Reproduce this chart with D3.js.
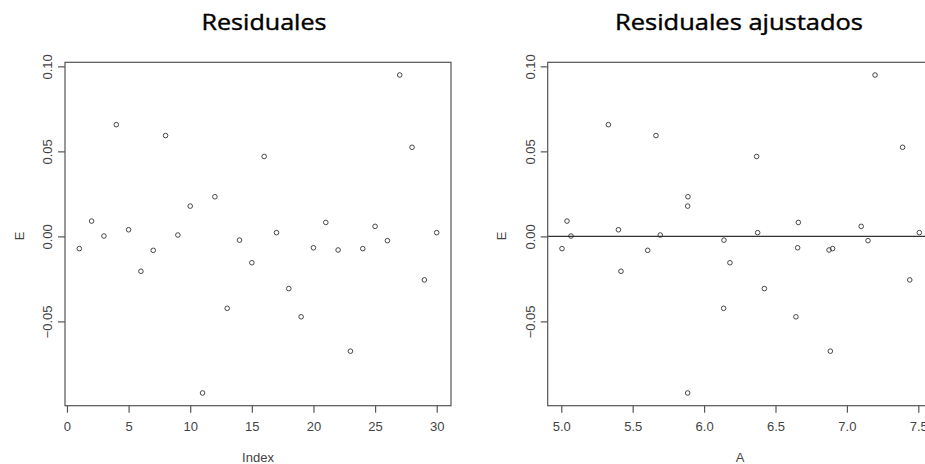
<!doctype html>
<html>
  <head>
    <meta charset="utf-8">
    <title>Residuales</title>
    <style>
      body { margin: 0; background: #fff; }
      svg { display: block; }
      .tick-label { font-family: "Liberation Sans", Arial, sans-serif; font-size: 13px; fill: #444; }
      .title { font-family: "Open Sans", sans-serif; font-size: 22px; font-weight: 400; fill: #000; stroke: #000; stroke-width: 0.4; }
    </style>
    <script src="https://cdnjs.cloudflare.com/ajax/libs/d3/7.8.5/d3.min.js"></script>
  </head>
  <body>
    <div id="chart"></div>
    <script>
      // residuals (index 1..30)
      const E = [-0.0072, 0.0090, 0.0002, 0.0657, 0.0039, -0.0205, -0.0082, 0.0593, 0.0008, 0.0178,
                 -0.0921, 0.0233, -0.0423, -0.0022, -0.0155, 0.0470, 0.0022, -0.0307, -0.0473, -0.0067,
                 0.0082, -0.0080, -0.0675, -0.0072, 0.0059, -0.0025, 0.0949, 0.0524, -0.0256, 0.0022];
      // fitted values for the second panel
      const A = [5.005, 5.040, 5.068, 5.330, 5.400, 5.418, 5.605, 5.663, 5.693, 5.885,
                 5.885, 5.887, 6.137, 6.139, 6.181, 6.368, 6.375, 6.422, 6.643, 6.655,
                 6.660, 6.875, 6.884, 6.900, 7.100, 7.148, 7.197, 7.390, 7.440, 7.507];
      const indexTicks = [0, 5, 10, 15, 20, 25, 30];
      const aTicks = [5.0, 5.5, 6.0, 6.5, 7.0, 7.5];
      const eTicks = [-0.05, 0.00, 0.05, 0.10];

      const W = 925, H = 464;
      const svg = d3.select('#chart').append('svg').attr('width', W).attr('height', H);

      const lineCol = '#555';
      const boxTop = 62.3, boxBottom = 405.7;

      // R style: pad range by 4%
      function padded(ext) {
        const r = ext[1] - ext[0];
        return [ext[0] - 0.04 * r, ext[1] + 0.04 * r];
      }

      const y = d3.scaleLinear().domain(padded(d3.extent(E))).range([boxBottom, boxTop]);

      function panel(opts) {
        const g = svg.append('g');
        const x = opts.x;
        const [x0, x1] = x.range();

        // points
        g.selectAll('circle')
          .data(opts.data)
          .enter()
          .append('circle')
          .attr('cx', d => x(d[0]))
          .attr('cy', d => y(d[1]))
          .attr('r', 2.3)
          .attr('fill', 'none')
          .attr('stroke', '#333')
          .attr('stroke-width', 0.9);

        if (opts.hline) {
          g.append('line')
            .attr('x1', x0).attr('x2', x1)
            .attr('y1', y(0)).attr('y2', y(0))
            .attr('stroke', '#333').attr('stroke-width', 1.2);
        }

        // box
        g.append('rect')
          .attr('x', x0).attr('y', boxTop)
          .attr('width', x1 - x0).attr('height', boxBottom - boxTop)
          .attr('fill', 'none').attr('stroke', lineCol).attr('stroke-width', 1.2);

        // x axis
        const xa = g.append('g').attr('transform', `translate(0,${boxBottom})`)
          .call(d3.axisBottom(x).tickValues(opts.xTicks).tickSize(7).tickPadding(9)
            .tickFormat(opts.xFormat).tickSizeOuter(0));
        xa.select('.domain').remove();
        xa.selectAll('line').attr('stroke', lineCol).attr('stroke-width', 1.2);
        xa.selectAll('text').attr('class', 'tick-label').attr('fill', null);

        // y axis
        const ya = g.append('g').attr('transform', `translate(${x0},0)`)
          .call(d3.axisLeft(y).tickValues(eTicks).tickSize(7).tickSizeOuter(0).tickFormat(d3.format('.2f')));
        ya.select('.domain').remove();
        ya.selectAll('line').attr('stroke', lineCol).attr('stroke-width', 1.2);
        ya.selectAll('text')
          .attr('class', 'tick-label').attr('fill', null)
          .attr('x', null).attr('dy', null)
          .attr('text-anchor', 'middle')
          .attr('transform', 'translate(-13,0) rotate(-90)')
          .attr('y', 0);

        // axis titles
        g.append('text').attr('class', 'tick-label')
          .attr('x', opts.xLabelX).attr('y', 462)
          .attr('text-anchor', 'middle').text(opts.xLabel);
        g.append('text').attr('class', 'tick-label')
          .attr('transform', `translate(${x0 - 41.5},${(boxTop + boxBottom) / 2 + 2}) rotate(-90)`)
          .attr('text-anchor', 'middle').text('E');

        // title
        g.append('text').attr('class', 'title')
          .attr('x', opts.titleX).attr('y', 29.5)
          .attr('text-anchor', 'middle')
          .attr('textLength', opts.titleLen).attr('lengthAdjust', 'spacingAndGlyphs')
          .text(opts.title);
      }

      const idx = E.map((d, i) => i + 1);
      const xIndex = d3.scaleLinear().domain(padded(d3.extent(idx))).range([65, 451]);
      panel({
        x: xIndex,
        data: idx.map((d, i) => [d, E[i]]),
        xTicks: indexTicks,
        xFormat: d3.format('d'),
        xLabel: 'Index',
        xLabelX: 258,
        title: 'Residuales',
        titleX: 264,
        titleLen: 125
      });

      const xA = d3.scaleLinear().domain(padded(d3.extent(A))).range([547.7, 933.6]);
      panel({
        x: xA,
        data: A.map((d, i) => [d, E[i]]),
        xTicks: aTicks,
        xFormat: d3.format('.1f'),
        xLabel: 'A',
        xLabelX: 740,
        hline: true,
        title: 'Residuales ajustados',
        titleX: 739,
        titleLen: 248
      });
    </script>
  </body>
</html>
